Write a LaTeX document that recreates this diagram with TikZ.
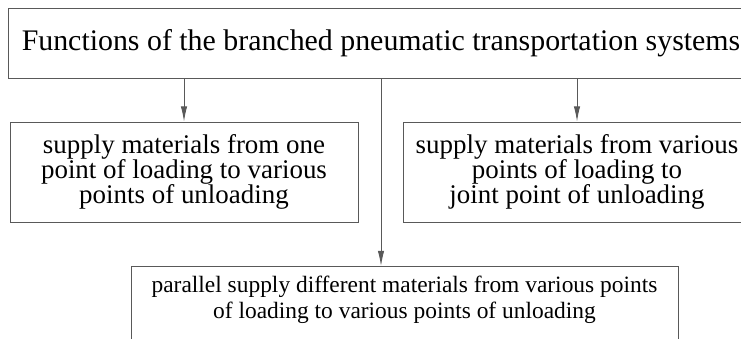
\documentclass[tikz,border=0pt]{standalone}
\usepackage{fontspec}
\setmainfont{Liberation Serif}
\usetikzlibrary{arrows.meta}
\tikzstyle{headbox}=[minimum width=22.38cm,minimum height=2.1cm,
rectangle,draw=black!65,line width=0.8pt,text=black,font=\fontsize{25.5}{28}\selectfont]
\tikzstyle{funcbox}=[minimum width=10.44cm,minimum height=3cm,
rectangle,draw=black!65,line width=0.8pt,text=black,align=center,
font=\fontsize{23}{21.7}\selectfont]
\tikzstyle{widebox}=[minimum width=16.41cm,anchor=north,inner ysep=0.3cm,text depth=1.5cm,
rectangle,draw=black!65,line width=0.8pt,text=black,align=center,
font=\fontsize{20}{22.1}\selectfont]
\tikzstyle{link}=[draw=black!65,line width=0.8pt,-{Latex[length=13pt,width=5.5pt]}]

\begin{document}
\begin{tikzpicture}
      \useasboundingbox (0,0) rectangle (22.23,10.17);
      \node[headbox] (T) at (11.43,8.88) {Functions of the branched pneumatic transportation systems};
      \node[funcbox] (L) at (5.52,5.01) {supply materials from one\\point of loading to various\\points of unloading};
      \node[funcbox] (R) at (17.31,5.01) {supply materials from various\\points of loading to\\joint point of unloading};
      \node[widebox] (B) at (12.135,2.19) {parallel supply different materials from various points\\of loading to various points of unloading};

      \draw[link] (L.north |- T.south) -- (L.north);
      \draw[link] (R.north |- T.south) -- (R.north);
      \draw[link] (T.south) -- (T.south |- B.north);
\end{tikzpicture}
\end{document}
